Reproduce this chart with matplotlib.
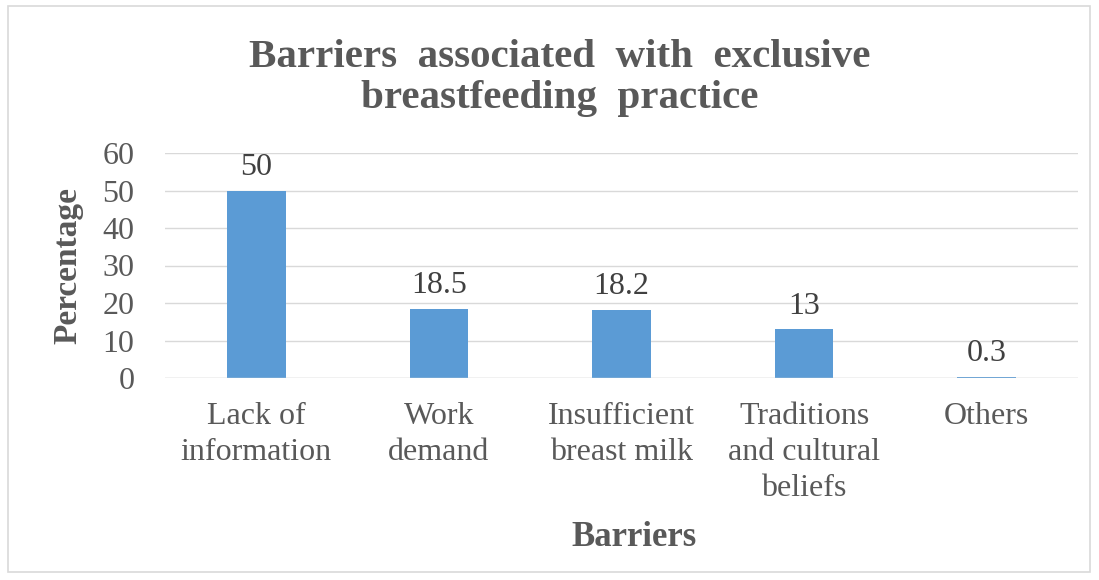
import matplotlib.pyplot as plt
from matplotlib.patches import Rectangle

# data
categories = ['Lack of\ninformation', 'Work\ndemand', 'Insufficient\nbreast milk',
              'Traditions\nand cultural\nbeliefs', 'Others']
values = [50, 18.5, 18.2, 13, 0.3]
value_labels = ['50', '18.5', '18.2', '13', '0.3']

plt.rcParams['font.family'] = ['Liberation Serif', 'DejaVu Serif']
txt = '#595959'

fig = plt.figure(figsize=(10.99, 5.8), dpi=100)
ax = fig.add_axes([165/1099, 1 - 378/580, (1078 - 165)/1099, (378 - 153)/580])

x = list(range(len(categories)))
bars = ax.bar(x, values, width=0.32, color='#5B9BD5', zorder=3)
for b, lab in zip(bars, value_labels):
    ax.text(b.get_x() + b.get_width()/2, b.get_height() + 2.3, lab,
            ha='center', va='bottom', fontsize=23, color='#404040')

ax.set_xlim(-0.5, len(categories) - 0.5)
ax.set_ylim(0, 60)
ax.set_yticks(range(0, 61, 10))
ax.set_xticks(x)
ax.set_xticklabels(categories, fontsize=23, color=txt, linespacing=1.32)
ax.tick_params(axis='y', labelsize=23, labelcolor=txt, length=0, pad=22)
ax.tick_params(axis='x', length=0, pad=17)
ax.grid(axis='y', color='#d9d9d9', linewidth=1, zorder=0)
for s in ax.spines.values():
    s.set_visible(False)
ax.axhline(0, color='#d9d9d9', linewidth=1, zorder=4)

fig.text(68/1099, 1 - 265/580, 'Percentage', fontsize=24, fontweight='bold',
         color=txt, rotation=90, ha='center', va='center')
fig.text(634/1099, 1 - 537/580, 'Barriers', fontsize=25, fontweight='bold',
         color=txt, ha='center', va='center')
fig.text(560/1099, 1 - 78/580, 'Barriers  associated  with  exclusive\nbreastfeeding  practice',
         fontsize=29.5, fontweight='bold', color=txt, ha='center', va='center',
         linespacing=1.15)

fig.patches.append(Rectangle((8/1099, 1 - 572/580), (1090 - 8)/1099, (572 - 6)/580,
                             transform=fig.transFigure, fill=False,
                             edgecolor='#d9d9d9', linewidth=1.2))

fig.savefig('out.png', dpi=100)
